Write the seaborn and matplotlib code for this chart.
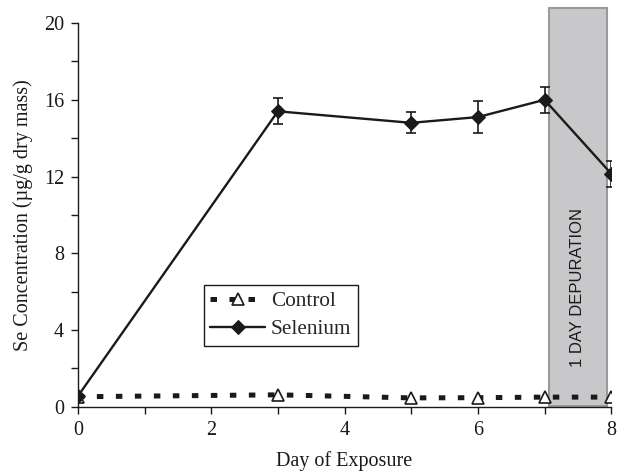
import matplotlib
matplotlib.use("Agg")
import matplotlib.pyplot as plt
import seaborn as sns
import pandas as pd
from matplotlib.patches import Rectangle

days = [0, 3, 5, 6, 7, 8]
control = [0.52, 0.62, 0.46, 0.47, 0.5, 0.5]
selenium = [0.55, 15.4, 14.8, 15.1, 16.0, 12.15]
selenium_err = [0.0, 0.67, 0.55, 0.82, 0.69, 0.67]
series_names = ["Control", "Selenium"]
x_ticks = [0, 1, 2, 3, 4, 5, 6, 7, 8]
x_labels = ["0", "", "2", "", "4", "", "6", "", "8"]
y_ticks = [0, 2, 4, 6, 8, 10, 12, 14, 16, 18, 20]
y_labels = ["0", "", "4", "", "8", "", "12", "", "16", "", "20"]
band_text = "1 DAY DEPURATION"

sns.set_style("ticks")
plt.rcParams["font.family"] = ["Liberation Serif", "DejaVu Serif"]

fig = plt.figure(figsize=(6.18, 4.71), dpi=100)
ax = fig.add_axes([0.126, 0.1365, 0.863, 0.8145])

df = pd.DataFrame({"day": days * 2,
                   "value": control + selenium,
                   "series": [series_names[0]] * len(days) + [series_names[1]] * len(days)})

# depuration band
rect = Rectangle((7.06, 0.05), 0.87, 20.75, facecolor="#c8c8ca", edgecolor="#9a9a9a",
                 linewidth=1.5, clip_on=False, zorder=1)
ax.add_patch(rect)
ax.text(7.5, 6.2, band_text, rotation=90, ha="center", va="center",
        fontsize=12, family=["Liberation Sans", "DejaVu Sans"], color="#1a1a1a", zorder=2)

sns.lineplot(data=df[df.series == "Control"], x="day", y="value", ax=ax,
             color="#1a1a1a", linewidth=3.6, linestyle=(0, (1.3, 2.5)),
             marker="^", markersize=8, markerfacecolor="white",
             markeredgecolor="#1a1a1a", markeredgewidth=1.2, zorder=3,
             label="Control", dash_capstyle="butt")
sns.lineplot(data=df[df.series == "Selenium"], x="day", y="value", ax=ax,
             color="#1a1a1a", linewidth=1.7, marker="D", markersize=7.5,
             markerfacecolor="#1a1a1a", markeredgecolor="#1a1a1a", zorder=4,
             label="Selenium")
ax.errorbar(days[1:], selenium[1:], yerr=selenium_err[1:], fmt="none",
            ecolor="#1a1a1a", elinewidth=1.2, capsize=3.8, capthick=1.2, zorder=4)

ax.set_xlim(0, 8)
ax.set_ylim(0, 20)
ax.set_xticks(x_ticks)
ax.set_xticklabels(x_labels)
ax.set_yticks(y_ticks)
ax.set_yticklabels(y_labels)
ax.tick_params(axis="both", direction="out", length=5, width=1, labelsize=14.5,
               colors="#1a1a1a", pad=5)
for s in ["top", "right"]:
    ax.spines[s].set_visible(False)
for s in ["left", "bottom"]:
    ax.spines[s].set_linewidth(1)
    ax.spines[s].set_color("#1a1a1a")

ax.set_xlabel("Day of Exposure", fontsize=14.5, labelpad=8, color="#1a1a1a")
ax.set_ylabel("Se Concentration (µg/g dry mass)", fontsize=14.5, labelpad=8, color="#1a1a1a")

leg = ax.legend(loc="upper left", bbox_to_anchor=(0.236, 0.318), borderaxespad=0,
                fontsize=15.3, frameon=True, fancybox=False, edgecolor="#1a1a1a",
                framealpha=1, handlelength=2.6, borderpad=0.3, labelspacing=0.4,
                handletextpad=0.25)
leg.get_frame().set_linewidth(1)

fig.savefig("out.png", dpi=100)
